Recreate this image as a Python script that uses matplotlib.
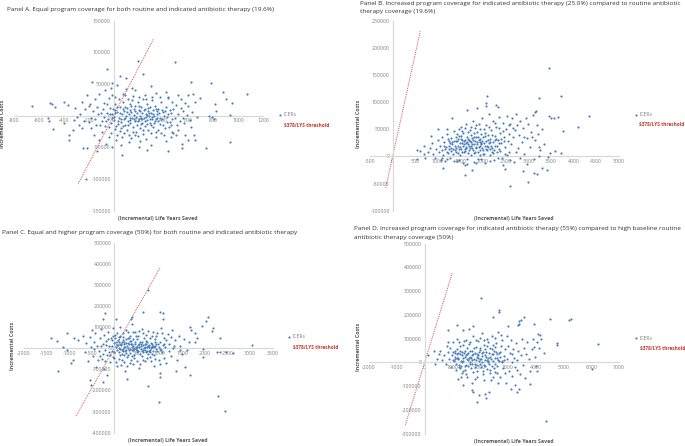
import matplotlib
matplotlib.use("Agg")
import matplotlib.pyplot as plt

W, H = 685, 446

# ICER points: (life years saved, incremental cost)
panel_a_points = [
    (197,86300),(492,85300),(-49,73000),(237,65800),(50,62000),(98,59000),(-177,53700),(-9,51000),(620,53000),(780,51000),
    (879,38000),(1072,35000),(900,26000),(949,20000),(812,18000),(-656,16000),(-511,19500),(-498,19000),(-471,14000),(-399,21000),
    (-367,17000),(-525,-4000),(-520,-9000),(-490,-21600),(-400,-11000),(-320,-7000),(-356,-30500),(-359,-38000),(-324,-22600),(-244,-50500),
    (-212,-51500),(-137,-55000),(-225,-100500),(66,-62000),(206,-49000),(269,-54000),(438,-56000),(745,-51600),(933,-42000),(552,-51500),
    (547,-44000),(600,-39000),(650,-38000),(648,-31000),(768,-800),(789,-1500),(808,-5000),(937,1800),(825,7000),(670,-1500),
    (562,-11000),(-290,-2000),(-270,3000),(-310,12000),(-255,21000),(-210,33000),(-190,18000),(-230,10000),(-150,27000),(-120,35000),
    (-70,40000),(-20,44000),(30,48000),(100,42000),(150,44000),(175,40000),(250,33000),(300,47000),(340,36000),(420,38000),
    (435,30000),(470,22000),(520,33000),(540,26000),(600,32000),(640,35000),(655,22000),(690,28000),(595,15000),(555,8000),
    (-200,-10000),(-180,-20000),(-160,-30000),(-120,-38000),(-90,-26000),(-60,-44000),(-10,-50000),(20,-38000),(60,-46000),(120,-42000),
    (170,-30000),(210,-40000),(260,-36000),(300,-47000),(340,-33000),(380,-28000),(420,-40000),(480,-28000),(520,-22000),(570,-30000),
    (620,-18000),(460,-15000),(-240,-8000),(-150,-5000),(-110,-15000),(-100,5000),(-130,14000),(-80,20000),(-40,28000),(-30,12000),
    (-60,-8000),(-40,-18000),(-20,-28000),(-10,3000),(0,-7000),(10,18000),(20,-16000),(30,6000),(40,-3000),(45,27000),
    (50,-24000),(55,13000),(60,-10000),(65,2000),(70,-33000),(75,21000),(80,-5000),(85,8000),(90,-15000),(95,32000),
    (100,-1000),(105,-22000),(110,12000),(115,-8000),(120,3000),(125,-30000),(130,18000),(135,-12000),(140,6000),(145,25000),
    (150,-4000),(155,-18000),(160,10000),(165,1000),(170,-9000),(175,15000),(180,-25000),(185,4000),(190,-14000),(195,22000),
    (200,-6000),(205,9000),(210,-20000),(215,0),(220,14000),(225,-11000),(230,5000),(235,-29000),(240,26000),(245,-3000),
    (250,11000),(255,-16000),(260,2000),(265,19000),(270,-7000),(275,7000),(280,-23000),(285,-1000),(290,13000),(295,-12000),
    (300,4000),(305,24000),(310,-5000),(315,-18000),(320,9000),(325,0),(330,-9000),(335,16000),(340,-26000),(345,3000),
    (350,-3000),(360,11000),(370,-13000),(380,21000),(390,-6000),(400,6000),(410,-20000),(420,14000),(430,-2000),(440,28000),
    (450,-10000),(460,4000),(470,-25000),(480,10000),(490,-4000),(500,17000),(510,-14000),(520,2000),(530,-8000),(545,12000),
    (560,-3000),(575,20000),(590,1000),(610,-7000),(630,6000),(-20,-12000),(5,-2000),(15,9000),(35,-9000),(-50,5000),
    (-75,-2000),(-95,-9000),(-165,8000),(-200,15000),(-250,-20000),(-280,-15000),(72,-17000),(128,-3000),(182,-2000),(222,-4000),
    (252,-9000),(282,5000),(312,-2000),(338,-6000),(352,8000),(128,9000),(88,14000),(58,-6000),(212,7000),(272,1000),
    (-5,10000),(12,-21000),(25,14000),(38,-13000),(48,4000),(62,-19000),(78,10000),(92,-4000),(108,6000),(118,-14000),
    (132,-7000),(142,15000),(152,-25000),(162,-6000),(172,7000),(192,-8000),(202,16000),(218,-13000),(232,-5000),(242,9000),
    (258,-2000),(268,-13000),(278,12000),(292,-6000),(302,-15000),(318,3000),(328,-12000),(342,10000),(356,-9000),(366,4000),
    (376,-4000),(386,9000),(396,-14000),(406,0),(416,7000),(426,-10000),(436,2000),(446,-18000),(456,9000),(466,-6000),
    (-10,32000),(-35,-33000),(12,30000),(72,34000),(118,27000),(158,31000),(205,29000),(262,27000),(312,29000),(372,30000),
    (30,-30000),(85,-27000),(142,-35000),(198,-32000),(238,-22000),(298,-28000),(358,-22000),(408,-30000),(462,-34000),(500,-31000),
    (-180,-3000),(-140,-15000),(-125,3000),(-85,10000),(-70,-17000),(-55,18000),(-45,-6000),(-28,2000),(-12,-4000),(8,4000),
]

panel_b_points = [
    (3454,162700),(3719,111000),(2077,110500),(3233,107000),(2062,98000),(2055,92000),(2283,95000),(2320,91500),(1856,89000),(1635,84700),
    (1318,70600),(4330,74300),(4100,54000),(3770,46000),(3650,73000),(3560,71000),(3490,70000),(3460,74000),(3167,83000),(3145,81000),
    (995,50000),(1193,50000),(840,37500),(531,11000),(604,10000),(693,19000),(531,-4300),(1600,-33800),(1746,-24600),(1120,-21500),
    (2585,-54600),(3000,-47300),(2870,-27600),(3115,-30000),(3180,-32000),(3290,-21500),(3400,-24600),(2480,-22700),(2445,-16500),(3424,-1000),
    (3590,10000),(3710,7000),(3470,6000),(3230,17000),(700,5000),(720,-3000),(780,9000),(830,16000),(880,24000),(900,5000),
    (930,-2000),(960,14000),(1000,30000),(1020,8000),(1040,19000),(1060,-6000),(1080,36000),(1100,12000),(1120,3000),(1140,26000),
    (1160,-9000),(1180,18000),(1200,41000),(1220,7000),(1240,28000),(1260,-3000),(1280,15000),(1300,34000),(1320,22000),(1340,5000),
    (1360,47000),(1380,12000),(1400,29000),(1420,-8000),(1440,20000),(1460,38000),(1480,3000),(1500,55000),(1510,14000),(1530,25000),
    (1550,-12000),(1560,43000),(1580,8000),(1590,31000),(1610,18000),(1630,60000),(1640,-5000),(1650,36000),(1670,23000),(1680,11000),
    (1700,49000),(1710,28000),(1720,2000),(1740,40000),(1750,16000),(1770,66000),(1780,31000),(1790,-10000),(1800,22000),(1820,53000),
    (1830,9000),(1840,36000),(1860,26000),(1870,45000),(1880,-4000),(1900,18000),(1910,60000),(1920,32000),(1940,12000),(1950,42000),
    (1960,24000),(1980,70000),(1990,5000),(2000,35000),(2020,50000),(2030,19000),(2040,-12000),(2060,28000),(2070,58000),(2090,11000),
    (2100,40000),(2120,24000),(2130,78000),(2150,3000),(2160,33000),(2180,48000),(2190,16000),(2210,66000),(2220,27000),(2240,-7000),
    (2250,38000),(2270,20000),(2290,55000),(2300,9000),(2320,30000),(2340,72000),(2360,14000),(2380,44000),(2400,25000),(2420,-3000),
    (2440,62000),(2460,36000),(2480,18000),(2500,50000),(2520,75000),(2540,28000),(2560,8000),(2580,42000),(2600,60000),(2620,22000),
    (2640,70000),(2660,35000),(2680,-10000),(2700,48000),(2730,78000),(2760,15000),(2790,40000),(2820,65000),(2850,27000),(2880,52000),
    (2910,5000),(2940,71000),(2970,34000),(3000,60000),(3030,18000),(3060,45000),(3090,76000),(3120,-4000),(3150,30000),(3180,58000),
    (3220,42000),(3260,12000),(3300,50000),(3340,22000),(1250,20000),(1300,10000),(1350,28000),(1400,15000),(1450,6000),(1500,33000),
    (1550,20000),(1600,10000),(1650,26000),(1700,15000),(1750,34000),(1800,6000),(1850,18000),(1900,30000),(1950,22000),(2000,12000),
    (2050,38000),(2100,17000),(2150,26000),(2200,8000),(2250,30000),(2300,20000),(1480,24000),(1520,38000),(1580,28000),(1620,16000),
    (1680,30000),(1720,20000),(1780,12000),(1820,28000),(1880,36000),(1920,20000),(1980,28000),(2020,4000),(2080,20000),(2140,14000),
    (1150,14000),(1220,32000),(1270,24000),(1330,14000),(1390,36000),(1430,28000),(1470,14000),(1530,8000),(1570,22000),(1660,6000),
    (1130,20000),(1190,9000),(1240,14000),(1310,27000),(1370,20000),(1410,8000),(1440,32000),(1490,17000),(1540,30000),(1590,13000),
    (1630,24000),(1670,33000),(1690,19000),(1730,26000),(1760,22000),(1800,36000),(1840,15000),(1870,22000),(1890,9000),(1930,27000),
    (1970,16000),(2010,25000),(2060,14000),(2110,30000),(2170,20000),(2230,12000),(2280,33000),(2340,25000),(2400,33000),(2470,28000),
    (1420,42000),(1470,50000),(1540,46000),(1600,52000),(1660,45000),(1730,55000),(1790,44000),(1850,58000),(1930,50000),(2040,44000),
    (2120,54000),(2200,40000),(2270,62000),(2350,52000),(2430,46000),(2560,58000),(2660,52000),(2750,58000),(2900,36000),(3080,35000),
    (1100,-2000),(1210,-4000),(1350,-8000),(1470,-6000),(1590,-15000),(1650,-14000),(1850,-13000),(1960,-5000),(2160,-8000),(2320,-2000),
    (2530,2000),(2720,8000),(2820,-3000),(2960,-14000),(3240,0),(2600,-6000),(2480,5000),(2380,10000),(2210,6000),(1920,3000),
]

panel_c_points = [
    (750,276000),(625,170000),(1008,174000),(1082,166000),(-208,166000),(-245,137000),(35,137000),(370,140000),(390,146000),(1082,137000),
    (2062,150000),(2025,131000),(1930,107000),(2173,95000),(2150,84000),(2335,49000),(3035,17000),(-1403,47000),(-1277,36000),(-1042,71000),
    (-1240,-109000),(-1130,8000),(-1060,-8000),(-960,-71000),(-925,-55000),(-540,-150000),(-525,-174000),(-245,-158000),(-172,-126000),(270,-147000),
    (750,-180000),(978,-253000),(2298,-227000),(2446,-297000),(1670,-126000),(1560,-88000),(1362,-107000),(1008,-134000),(1008,-118000),(2270,-20000),
    (2335,-20000),(2470,-16000),(2630,-24000),(1950,-40000),(1965,-2000),(1670,103000),(1685,87000),(1780,70000),(1780,32000),(1815,47000),
    (-900,50000),(-800,38000),(-700,60000),(-650,-20000),(-620,25000),(-580,-60000),(-540,55000),(-520,5000),(-500,85000),(-470,-35000),
    (-450,30000),(-420,70000),(-400,-90000),(-380,10000),(-350,-15000),(-330,48000),(-300,90000),(-280,-50000),(-260,20000),(-240,-100000),
    (-220,65000),(-200,-8000),(-180,35000),(-160,-30000),(-140,78000),(-120,12000),(-100,-65000),(-80,50000),(-60,-12000),(-40,95000),
    (-20,25000),(0,-45000),(20,62000),(40,5000),(60,-85000),(80,40000),(100,-18000),(120,100000),(140,18000),(160,-55000),
    (180,70000),(200,-5000),(220,30000),(240,-110000),(260,85000),(280,12000),(300,-30000),(320,50000),(340,-70000),(360,22000),
    (380,115000),(400,-8000),(420,42000),(440,-48000),(460,75000),(480,8000),(500,-20000),(520,58000),(540,-95000),(560,28000),
    (580,-2000),(600,90000),(620,-35000),(640,15000),(660,48000),(680,-60000),(700,35000),(720,-12000),(740,80000),(760,5000),
    (780,-42000),(800,25000),(820,60000),(840,-25000),(860,10000),(880,-85000),(900,42000),(920,-5000),(940,70000),(960,18000),
    (980,-55000),(1000,30000),(1030,95000),(1060,-20000),(1090,50000),(1120,5000),(1150,-70000),(1180,68000),(1210,20000),(1240,-38000),
    (1270,85000),(1300,0),(1340,38000),(1380,-55000),(1420,58000),(1460,12000),(1500,-25000),(1540,45000),(1600,-10000),(1650,30000),
    (100,30000),(120,-5000),(150,15000),(170,-25000),(190,40000),(210,8000),(230,-15000),(250,25000),(270,-40000),(290,50000),
    (310,0),(330,18000),(350,-22000),(370,35000),(390,-10000),(410,12000),(430,-30000),(450,28000),(470,-3000),(490,42000),
    (510,5000),(530,-15000),(550,20000),(570,-28000),(590,10000),(610,32000),(630,-8000),(650,0),(670,18000),(690,-18000),
    (710,8000),(730,28000),(750,-28000),(770,15000),(790,-10000),(810,0),(830,22000),(850,-15000),(870,8000),(890,30000),
    (-300,10000),(-250,-25000),(-190,15000),(-150,45000),(-90,-30000),(-50,10000),(-10,-20000),(30,30000),(50,-10000),(70,15000),
    (90,0),(110,55000),(130,-30000),(180,-15000),(240,5000),(320,-10000),(380,5000),(440,-5000),(520,15000),(600,-15000),
    (680,5000),(760,-12000),(840,5000),(920,20000),(1000,-5000),(1100,20000),(1200,-15000),(1320,10000),(1440,-8000),(-120,-20000),
    (-60,40000),(-30,60000),(10,48000),(60,72000),(130,60000),(200,55000),(250,42000),(300,75000),(350,60000),(410,78000),
    (480,60000),(540,80000),(640,72000),(700,65000),(780,50000),(850,78000),(910,60000),(1050,70000),(1150,40000),(1250,55000),
    (-40,-40000),(30,-65000),(90,-50000),(150,-80000),(210,-65000),(280,-85000),(370,-55000),(420,-75000),(490,-62000),(570,-75000),
    (640,-55000),(720,-45000),(800,-60000),(900,-50000),(1000,-75000),(1100,-45000),(-200,-60000),(-330,-35000),(-450,-5000),(-370,-55000),
    (60,15000),(115,20000),(160,-8000),(205,20000),(245,-22000),(295,25000),(335,-5000),(385,20000),(425,0),(465,18000),
    (505,-8000),(545,8000),(585,22000),(625,-20000),(665,-8000),(705,22000),(745,12000),(785,-20000),(825,10000),(865,-30000),
    (905,12000),(945,-15000),(985,5000),(1025,-10000),(1065,15000),(255,-8000),(215,-32000),(175,32000),(345,35000),(395,-38000),
]

panel_d_points = [
    (2020,272000),(2680,219000),(2692,212000),(2464,192000),(3580,192000),(3400,174000),(3460,177000),(3928,161000),(4516,182000),(5200,180000),
    (5272,181000),(3376,156000),(3412,163000),(3016,153000),(6232,76000),(4780,81000),(4756,72000),(4156,114000),(4192,100000),(4096,121000),
    (3976,22000),(4300,41000),(4372,-247000),(1888,-167000),(2224,-150000),(1960,-136000),(1720,-118000),(1732,-125000),(2176,-132000),(2320,-125000),
    (3340,-125000),(3400,-111000),(3112,-111000),(3256,-94000),(3796,-90000),(4036,-34000),(6016,-28000),(112,32000),(376,-5000),(352,50000),
    (556,50000),(520,36000),(1156,156000),(856,135000),(856,88000),(820,71000),(1396,135000),(1732,153000),(1612,142000),(1216,-69000),
    (1396,-97000),(450,15000),(620,10000),(700,30000),(780,-5000),(840,45000),(880,15000),(920,62000),(960,-20000),(1000,30000),
    (1030,85000),(1060,5000),(1090,50000),(1120,-30000),(1150,20000),(1180,100000),(1210,38000),(1240,-10000),(1270,68000),(1300,8000),
    (1330,-45000),(1360,45000),(1390,18000),(1420,90000),(1450,-15000),(1480,30000),(1510,60000),(1540,-60000),(1570,10000),(1600,78000),
    (1630,25000),(1660,-25000),(1690,48000),(1720,-5000),(1750,110000),(1780,15000),(1810,-70000),(1840,65000),(1870,35000),(1900,-35000),
    (1930,90000),(1960,5000),(1990,52000),(2020,-18000),(2050,125000),(2080,28000),(2110,-50000),(2140,72000),(2170,12000),(2200,42000),
    (2230,-28000),(2260,98000),(2290,20000),(2320,-8000),(2350,60000),(2380,-75000),(2410,35000),(2440,112000),(2470,5000),(2500,50000),
    (2530,-40000),(2560,80000),(2590,18000),(2620,-15000),(2650,130000),(2680,40000),(2710,-60000),(2740,68000),(2770,8000),(2800,95000),
    (2830,-25000),(2860,28000),(2890,55000),(2920,-85000),(2950,110000),(2980,15000),(3010,70000),(3040,-35000),(3070,40000),(3100,95000),
    (3130,0),(3160,-55000),(3190,58000),(3220,20000),(3260,-20000),(3300,80000),(3340,10000),(3380,50000),(3420,-50000),(3460,30000),
    (3500,100000),(3540,-10000),(3580,60000),(3620,-65000),(3660,35000),(3700,85000),(3750,15000),(3800,-35000),(3850,55000),(3900,100000),
    (3950,65000),(4020,-15000),(4060,85000),(4120,60000),(1020,10000),(1080,25000),(1140,-5000),(1200,15000),(1260,35000),(1320,-15000),
    (1380,5000),(1440,25000),(1500,-10000),(1560,40000),(1620,-5000),(1680,18000),(1740,35000),(1800,-20000),(1860,10000),(1920,30000),
    (1980,-5000),(2040,15000),(2100,45000),(2160,-15000),(2220,25000),(2280,5000),(2340,-30000),(2400,15000),(2460,35000),(2520,-5000),
    (2580,45000),(2640,10000),(1100,40000),(1160,55000),(1220,20000),(1280,-25000),(1340,30000),(1400,-35000),(1460,50000),(1520,15000),
    (1580,-15000),(1640,0),(1700,30000),(1760,-40000),(1820,40000),(1880,-10000),(1940,20000),(2000,60000),(2060,0),(2120,-35000),
    (2180,30000),(2240,70000),(2300,0),(2360,25000),(2420,-15000),(2480,75000),(2540,20000),(2600,-45000),(2700,25000),(2800,0),
    (1040,45000),(1110,15000),(1170,35000),(1230,-20000),(1290,50000),(1350,0),(1410,40000),(1470,-30000),(1530,35000),(1590,20000),
    (1650,50000),(1710,10000),(1770,60000),(1830,-5000),(1890,25000),(1950,45000),(2010,15000),(2070,40000),(2130,-10000),(2190,55000),
    (2250,10000),(2310,40000),(2370,-45000),(2430,55000),(2490,-25000),(2550,65000),(2610,35000),(2670,5000),(2730,45000),(2860,10000),
    (1250,85000),(1380,75000),(1500,95000),(1650,85000),(1850,95000),(2000,105000),(2150,95000),(2300,85000),(2550,105000),(2750,115000),
    (1300,-60000),(1500,-50000),(1700,-85000),(1900,-60000),(2150,-75000),(2450,-60000),(2650,-85000),(2900,-45000),(3150,35000),(3320,-30000),
]

# threshold line ends
line_a_x, line_a_y = [-283, 319], [-107000, 120600]
line_b_x, line_b_y = [-153, 611], [-57800, 231000]
line_c_x, line_c_y = [-850, 1006], [-321000, 380000]
line_d_x, line_d_y = [-690, 1000], [-262000, 378000]

x_ticks_a = list(range(-800, 1201, 200))
y_ticks_a = list(range(-150000, 150001, 50000))
x_ticks_b = list(range(-500, 5001, 500))
y_ticks_b = list(range(-100000, 250001, 50000))
x_ticks_c = list(range(-2000, 3501, 500))
y_ticks_c = list(range(-400000, 500001, 100000))
x_ticks_d = list(range(-2000, 7001, 1000))
y_ticks_d = list(range(-300000, 500001, 100000))

title_a = ["Panel A. Equal program coverage for both routine and indicated antibiotic therapy (19.6%)"]
title_b = ["Panel B. Increased program coverage for indicated antibiotic therapy (25.0%) compared to routine antibiotic",
           "therapy coverage (19.6%)"]
title_c = ["Panel C. Equal and higher program coverage (50%) for both routine and indicated antibiotic therapy"]
title_d = ["Panel D. Increased program coverage for indicated antibiotic therapy (55%) compared to high baseline routine",
           "antibiotic therapy coverage (50%)"]

plt.rcParams['font.family'] = ['Open Sans', 'DejaVu Sans']
BLUE = '#4a7ebb'
GRAY = '#7f7f7f'
RED = '#c0392b'

fig = plt.figure(figsize=(W / 100, H / 100), dpi=100)


def fx(px):
    return px / W


def fy(py):
    return 1 - py / H


def draw_panel(points, line_x, line_y, x_ticks, y_ticks, box, title, title_x, title_ys,
               ylabel_pos, xlabel_pos, legend_pos, thresh_pos):
    left, right, top, bottom = box
    ax = fig.add_axes([fx(left), fy(bottom), fx(right - left), (bottom - top) / H])
    ax.set_xlim(x_ticks[0], x_ticks[-1])
    ax.set_ylim(y_ticks[0], y_ticks[-1])
    ax.patch.set_alpha(0)
    for side in ['top', 'right']:
        ax.spines[side].set_visible(False)
    for side in ['left', 'bottom']:
        ax.spines[side].set_position(('data', 0))
        ax.spines[side].set_color('#d9d9d9')
        ax.spines[side].set_linewidth(0.9)
    ax.set_xticks(x_ticks)
    ax.set_yticks(y_ticks)
    ax.set_xticklabels([str(v) for v in x_ticks])
    ax.set_yticklabels([str(v) for v in y_ticks])
    ax.tick_params(length=0, labelsize=3.7, labelcolor=GRAY, pad=2)

    xs = [p[0] for p in points]
    ys = [p[1] for p in points]
    dots = ax.scatter(xs, ys, s=2.4, color=BLUE, linewidths=0, zorder=3, label='ICERs')
    ax.plot(line_x, line_y, color='#d9534f', lw=0.7, ls=(0, (1, 1)), zorder=2)

    leg = ax.legend(handles=[dots], loc='center left', frameon=False, fontsize=3.7,
                    bbox_to_anchor=(fx(legend_pos[0]), fy(legend_pos[1])),
                    bbox_transform=fig.transFigure, borderpad=0, borderaxespad=0,
                    handletextpad=0.2, handlelength=1.0, markerscale=1.0)
    for t in leg.get_texts():
        t.set_color(GRAY)

    fig.text(fx(thresh_pos[0]), fy(thresh_pos[1]), '$378/LYS threshold', fontsize=3.4, color=RED,
             fontweight='bold', va='center', ha='left', parse_math=False)
    fig.text(fx(ylabel_pos[0]), fy(ylabel_pos[1]), 'Incremental Costs', fontsize=3.9, color='#595959',
             fontweight='bold', rotation=90, va='center', ha='center')
    fig.text(fx(xlabel_pos[0]), fy(xlabel_pos[1]), '(Incremental) Life Years Saved', fontsize=3.8,
             color='#595959', fontweight='bold', va='center', ha='center')
    for line, ty in zip(title, title_ys):
        fig.text(fx(title_x), fy(ty), line, fontsize=4.55, color='#333333', va='center', ha='left')


draw_panel(panel_a_points, line_a_x, line_a_y, x_ticks_a, y_ticks_a, (14, 263, 20.7, 210.7),
           title_a, 7, [9], (3, 124), (158, 218.7), (277, 115), (284, 125.7))
draw_panel(panel_b_points, line_b_x, line_b_y, x_ticks_b, y_ticks_b, (370, 619, 20.7, 210.7),
           title_b, 360, [4, 12], (359, 124), (514, 218), (633, 115), (639.3, 125))
draw_panel(panel_c_points, line_c_x, line_c_y, x_ticks_c, y_ticks_c, (24, 272.7, 242.7, 432.7),
           title_c, 2, [232.7], (12.7, 346), (168, 440.7), (286.5, 337), (293, 347.7))
draw_panel(panel_d_points, line_d_x, line_d_y, x_ticks_d, y_ticks_d, (369, 619, 243.7, 433.7),
           title_d, 354, [228, 237], (359, 347), (514, 442), (633, 338), (639.7, 348.7))

fig.savefig('out.png', dpi=100)
